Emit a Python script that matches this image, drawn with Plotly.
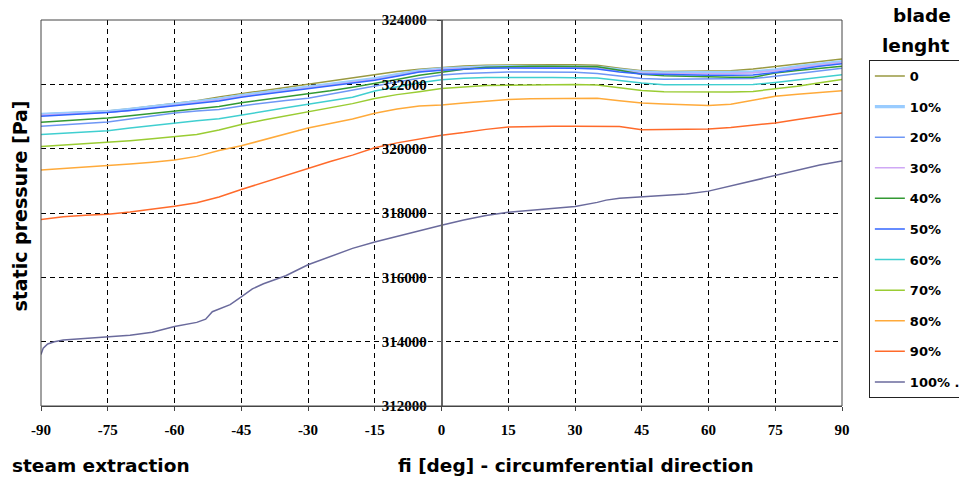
import plotly.graph_objects as go

# ---------------- data ----------------
fi = [-90, -85, -80, -75, -70, -65, -60, -55, -50, -45, -40, -35, -30, -25, -20, -15, -10, -5,
      0, 5, 10, 15, 20, 25, 30, 35, 40, 45, 50, 55, 60, 65, 70, 75, 80, 85, 90]

p_0 = [321080, 321110, 321140, 321170, 321240, 321320, 321400, 321490, 321610, 321710, 321810, 321900,
       321990, 322100, 322200, 322300, 322400, 322470, 322530, 322570, 322595, 322605, 322610, 322610,
       322610, 322590, 322500, 322420, 322400, 322400, 322400, 322420, 322480, 322560, 322640, 322710, 322790]
p_10 = [321070, 321100, 321130, 321155, 321220, 321300, 321380, 321460, 321540, 321650, 321740, 321830,
        321920, 322010, 322100, 322180, 322300, 322420, 322480, 322520, 322540, 322550, 322550, 322550,
        322545, 322530, 322450, 322380, 322360, 322360, 322360, 322370, 322390, 322450, 322550, 322630, 322710]
p_20 = [320700, 320750, 320790, 320830, 320920, 321010, 321105, 321170, 321220, 321330, 321420, 321500,
        321570, 321700, 321820, 321950, 322070, 322190, 322290, 322340, 322370, 322380, 322380, 322380,
        322375, 322340, 322260, 322180, 322160, 322160, 322160, 322170, 322180, 322250, 322340, 322420, 322500]
p_30 = [321040, 321070, 321100, 321130, 321190, 321270, 321350, 321430, 321510, 321620, 321710, 321800,
        321890, 321980, 322070, 322150, 322270, 322400, 322460, 322500, 322520, 322530, 322530, 322530,
        322525, 322505, 322420, 322350, 322330, 322330, 322330, 322340, 322360, 322420, 322520, 322600, 322680]
p_40 = [320825, 320870, 320910, 320950, 321020, 321090, 321155, 321230, 321310, 321430, 321520, 321610,
        321690, 321800, 321910, 322020, 322150, 322280, 322380, 322470, 322530, 322555, 322560, 322560,
        322560, 322550, 322440, 322310, 322270, 322250, 322230, 322220, 322220, 322350, 322430, 322500, 322560]
p_50 = [321010, 321050, 321090, 321125, 321190, 321260, 321340, 321410, 321480, 321600, 321690, 321780,
        321870, 321960, 322050, 322125, 322250, 322380, 322440, 322480, 322500, 322510, 322510, 322510,
        322500, 322480, 322380, 322320, 322300, 322290, 322280, 322280, 322290, 322370, 322470, 322560, 322640]
p_60 = [320440, 320480, 320520, 320560, 320640, 320720, 320800, 320870, 320930, 321050, 321160, 321270,
        321380, 321480, 321600, 321790, 321920, 322050, 322145, 322190, 322210, 322215, 322215, 322210,
        322205, 322195, 322120, 322040, 321990, 321990, 321990, 321990, 321995, 322060, 322140, 322220, 322300]
p_70 = [320070, 320110, 320150, 320195, 320250, 320310, 320380, 320440, 320580, 320750, 320890, 321020,
        321150, 321270, 321400, 321560, 321680, 321770, 321870, 321920, 321960, 321975, 321985, 321990,
        321995, 321980, 321900, 321810, 321770, 321765, 321765, 321765, 321780, 321850, 321940, 322050, 322150]
p_80 = [319340, 319380, 319420, 319460, 319520, 319580, 319650, 319760, 319940, 320090, 320280, 320460,
        320640, 320780, 320920, 321100, 321230, 321330, 321360, 321420, 321480, 321530, 321555, 321565,
        321570, 321565, 321490, 321420, 321390, 321370, 321340, 321380, 321500, 321630, 321690, 321740, 321800]
p_90 = [317800, 317880, 317930, 317960, 318030, 318110, 318210, 318320, 318500, 318730, 318950, 319160,
        319370, 319600, 319800, 320030, 320180, 320290, 320420, 320500, 320600, 320670, 320690, 320700,
        320700, 320700, 320690, 320590, 320590, 320590, 320610, 320660, 320730, 320800, 320910, 321010, 321110]

fi_100 = [-90, -89.5, -88.5, -87, -85, -80, -75, -70, -65, -60, -55, -53, -51.5, -49, -47.5, -45, -42.5,
          -40, -35, -30, -25, -20, -15, -10, -5, 0, 5, 10, 15, 20, 25, 30, 35, 37, 40, 45, 50, 55, 60,
          65, 70, 75, 80, 85, 90]
p_100 = [313600, 313800, 313930, 314000, 314050, 314100, 314140, 314200, 314290, 314470, 314600, 314700,
         314930, 315060, 315150, 315390, 315640, 315800, 316050, 316390, 316650, 316900, 317100, 317280,
         317450, 317620, 317780, 317920, 318020, 318080, 318130, 318200, 318330, 318400, 318460, 318500,
         318530, 318590, 318680, 318840, 319000, 319160, 319330, 319490, 319620]

series_names = ["0", "10%", "20%", "30%", "40%", "50%", "60%", "70%", "80%", "90%", "100% ."]
series_values = [p_0, p_10, p_20, p_30, p_40, p_50, p_60, p_70, p_80, p_90, p_100]
series_x = [fi] * 10 + [fi_100]
series_colors = ["#999940", "#99ccff", "#6f97f5", "#cfa8f5", "#339933", "#3366ff",
                 "#40cfd0", "#9acc33", "#ffaa3a", "#ff6a2a", "#6a6a9c"]
series_widths = [1.5, 3.2, 1.5, 1.5, 1.5, 1.5, 1.5, 1.5, 1.5, 1.5, 1.5]

x_ticks = [-90, -75, -60, -45, -30, -15, 0, 15, 30, 45, 60, 75, 90]
y_ticks = [312000, 314000, 316000, 318000, 320000, 322000, 324000]

# ---------------- figure ----------------
fig = go.Figure()
for i, (name, xs, ys, c, w) in enumerate(zip(series_names, series_x, series_values,
                                              series_colors, series_widths)):
    fig.add_trace(go.Scatter(x=xs, y=ys, mode="lines", name=name,
                             line=dict(color=c, width=w),
                             legendgroup=name, legendrank=i + 1))

tick_font = dict(family="Liberation Serif", size=15, color="#000000", weight="bold")
grid_dash = "5px,4px"

fig.update_layout(
    width=959, height=481,
    margin=dict(l=41, r=117, t=14, b=75),
    paper_bgcolor="white", plot_bgcolor="white",
    showlegend=True,
    legend=dict(
        xref="container", yref="container",
        x=0.906, y=0.8753, xanchor="left", yanchor="top",
        maxheight=420,
        bordercolor="#222222", borderwidth=1, bgcolor="white",
        font=dict(family="DejaVu Sans", size=13, color="#000000", weight="bold"),
        tracegroupgap=10.7, itemwidth=30,
    ),
    xaxis=dict(
        range=[-90, 90], tickvals=x_ticks, ticktext=[str(v) for v in x_ticks],
        showgrid=True, gridcolor="#000000", gridwidth=1, griddash=grid_dash,
        zeroline=False, showline=True, linecolor="#444444", linewidth=1,
        ticks="outside", ticklen=4, tickcolor="#444444",
        tickfont=tick_font, ticklabelstandoff=6,
    ),
    yaxis=dict(
        range=[312000, 324000], tickvals=y_ticks, ticktext=[str(v) for v in y_ticks],
        anchor="free", position=0.5,
        showgrid=True, gridcolor="#000000", gridwidth=1, griddash=grid_dash,
        zeroline=False, showline=True, linecolor="#666666", linewidth=1.5,
        ticks="outside", ticklen=4, tickcolor="#444444",
        tickfont=tick_font, ticklabelstandoff=7,
    ),
    shapes=[dict(type="rect", xref="paper", yref="paper", x0=0, x1=1, y0=0, y1=1,
                 line=dict(color="#444444", width=1), layer="above")],
)

lab_font = dict(family="DejaVu Sans", size=18.5, color="#000000", weight="bold")
ylab_font = dict(family="DejaVu Sans", size=19, color="#000000", weight="bold")
fig.add_annotation(text="static pressure [Pa]", xref="paper", yref="paper",
                   x=-0.026, y=0.517, xanchor="center", yanchor="middle",
                   textangle=-90, showarrow=False, font=ylab_font)
fig.add_annotation(text="steam extraction", xref="paper", yref="paper",
                   x=-0.039, y=-0.155, xanchor="left", yanchor="middle",
                   showarrow=False, font=lab_font)
fig.add_annotation(text="fi [deg] - circumferential direction", xref="paper", yref="paper",
                   x=0.668, y=-0.155, xanchor="center", yanchor="middle",
                   showarrow=False, font=lab_font)
fig.add_annotation(text="blade", xref="paper", yref="paper",
                   x=1.100, y=1.011, xanchor="center", yanchor="middle",
                   showarrow=False, font=lab_font)
fig.add_annotation(text="lenght", xref="paper", yref="paper",
                   x=1.092, y=0.934, xanchor="center", yanchor="middle",
                   showarrow=False, font=lab_font)

fig.write_html("out.html")
